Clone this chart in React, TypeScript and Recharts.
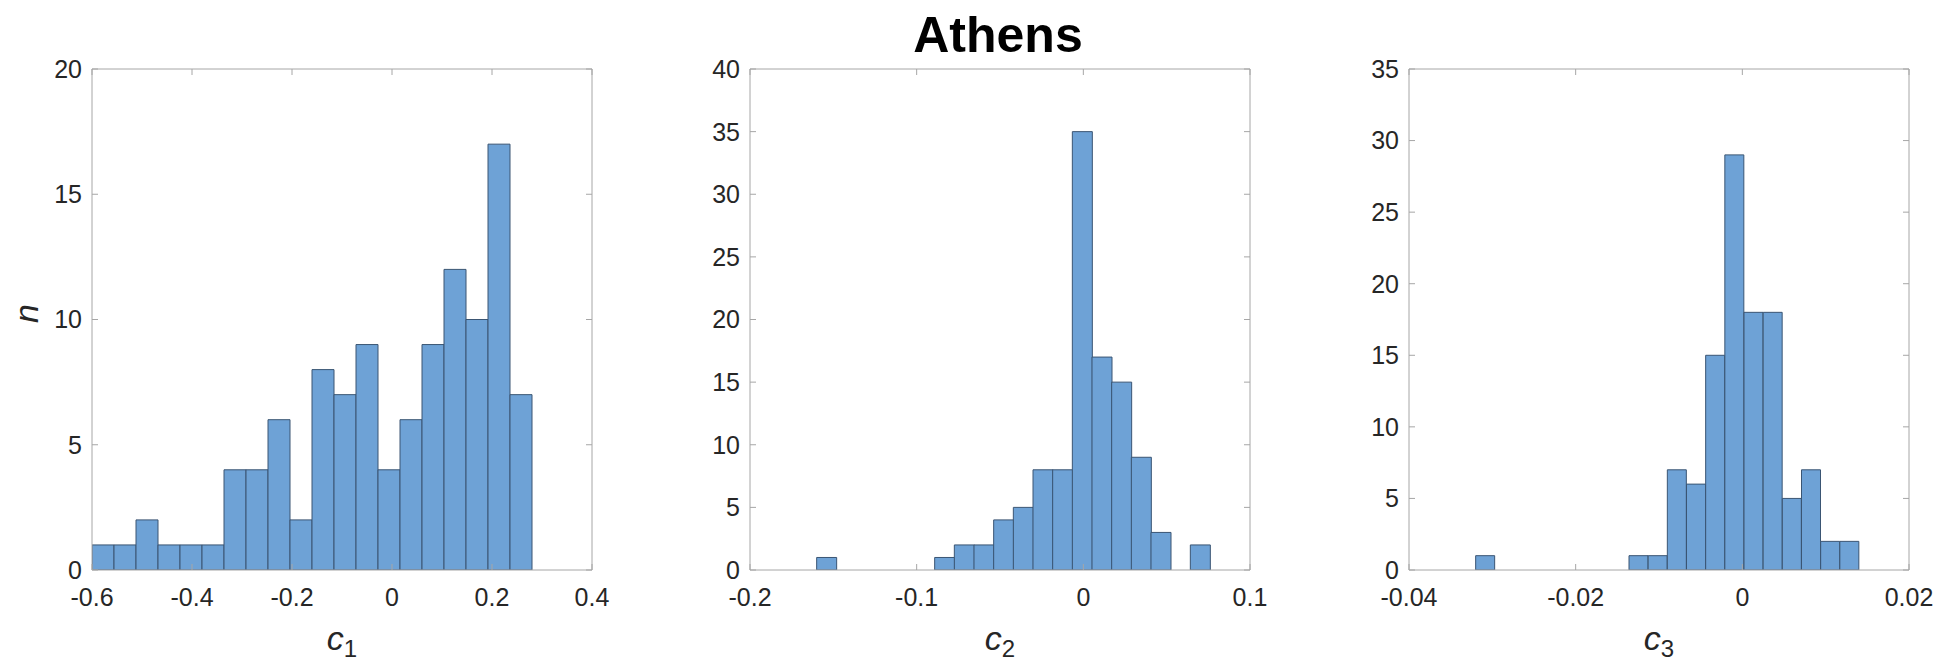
import { BarChart, Bar, XAxis, YAxis } from 'recharts';

// histogram counts per bin (20 bins each)
const C1_COUNTS = [1, 1, 2, 1, 1, 1, 4, 4, 6, 2, 8, 7, 9, 4, 6, 9, 12, 10, 17, 7];
const C1_BIN_START = -0.6;
const C1_BIN_WIDTH = 0.044;
const C1_X_TICKS = [-0.6, -0.4, -0.2, 0, 0.2, 0.4];
const C1_Y_TICKS = [0, 5, 10, 15, 20];

const C2_COUNTS = [1, 0, 0, 0, 0, 0, 1, 2, 2, 4, 5, 8, 8, 35, 17, 15, 9, 3, 0, 2];
const C2_BIN_START = -0.16;
const C2_BIN_WIDTH = 0.0118;
const C2_X_TICKS = [-0.2, -0.1, 0, 0.1];
const C2_Y_TICKS = [0, 5, 10, 15, 20, 25, 30, 35, 40];

const C3_COUNTS = [1, 0, 0, 0, 0, 0, 0, 0, 1, 1, 7, 6, 15, 29, 18, 18, 5, 7, 2, 2];
const C3_BIN_START = -0.032;
const C3_BIN_WIDTH = 0.0023;
const C3_X_TICKS = [-0.04, -0.02, 0, 0.02];
const C3_Y_TICKS = [0, 5, 10, 15, 20, 25, 30, 35];

const TITLE = 'Athens';

const FONT = '"Liberation Sans", Arial, Helvetica, sans-serif';
const BAR_FILL = '#6ea2d6';
const BAR_EDGE = '#3a5573';
const AXIS = '#a6a6a6';
const TEXT = '#262626';

const CHART_W = 620;
const CHART_H = 668;

type Props = {
  left: number;
  counts: number[];
  binStart: number;
  binWidth: number;
  xTicks: number[];
  yTicks: number[];
  sub: string;
  showYLabel?: boolean;
};

function Histogram({ left, counts, binStart, binWidth, xTicks, yTicks, sub, showYLabel }: Props) {
  const data = counts.map((n, i) => ({ x: binStart + (i + 0.5) * binWidth, n }));
  const xDomain = [xTicks[0], xTicks[xTicks.length - 1]];
  const yDomain = [yTicks[0], yTicks[yTicks.length - 1]];

  const xLabel = (props: any) => {
    const vb = props.viewBox;
    return (
      <text x={vb.x + vb.width / 2} y={vb.y + 80} textAnchor="middle" fill={TEXT}>
        <tspan fontStyle="italic" fontSize={34}>c</tspan>
        <tspan fontSize={24} dy={7}>{sub}</tspan>
      </text>
    );
  };

  const yLabel = (props: any) => {
    const vb = props.viewBox;
    const x = vb.x + 16;
    const cy = vb.y + vb.height / 2 - 6;
    return (
      <text
        x={x}
        y={cy}
        transform={`rotate(-90, ${x}, ${cy})`}
        textAnchor="middle"
        fontStyle="italic"
        fontSize={34}
        fill={TEXT}
      >
        n
      </text>
    );
  };

  return (
    <div style={{ position: 'absolute', left, top: 0 }}>
      <BarChart
        width={CHART_W}
        height={CHART_H}
        data={data}
        margin={{ top: 68, right: 27, bottom: 38, left: 22 }}
        barCategoryGap={0}
        barGap={0}
      >
        <XAxis
          dataKey="x"
          type="number"
          domain={xDomain}
          ticks={xTicks}
          interval={0}
          allowDataOverflow
          height={60}
          axisLine={{ stroke: AXIS }}
          tickLine={{ stroke: AXIS }}
          tickSize={-6}
          tickMargin={24}
          tick={{ fill: TEXT, fontSize: 25 }}
          label={xLabel}
        />
        <XAxis
          xAxisId="top"
          orientation="top"
          dataKey="x"
          type="number"
          domain={xDomain}
          ticks={xTicks}
          interval={0}
          allowDataOverflow
          height={1}
          axisLine={{ stroke: AXIS }}
          tickLine={{ stroke: AXIS }}
          tickSize={-6}
          tick={() => <g />}
        />
        <YAxis
          type="number"
          domain={yDomain}
          ticks={yTicks}
          interval={0}
          allowDataOverflow
          width={70}
          axisLine={{ stroke: AXIS }}
          tickLine={{ stroke: AXIS }}
          tickSize={-6}
          tickMargin={16}
          tick={{ fill: TEXT, fontSize: 25 }}
          label={showYLabel ? yLabel : undefined}
        />
        <YAxis
          yAxisId="right"
          orientation="right"
          type="number"
          domain={yDomain}
          ticks={yTicks}
          interval={0}
          allowDataOverflow
          width={1}
          axisLine={{ stroke: AXIS }}
          tickLine={{ stroke: AXIS }}
          tickSize={-6}
          tick={() => <g />}
        />
        <Bar
          dataKey="n"
          fill={BAR_FILL}
          stroke={BAR_EDGE}
          strokeWidth={1}
          isAnimationActive={false}
        />
      </BarChart>
    </div>
  );
}

export default function App() {
  return (
    <div
      style={{
        position: 'relative',
        width: 1942,
        height: 668,
        margin: -8,
        overflow: 'hidden',
        background: '#ffffff',
        fontFamily: FONT,
      }}
    >
      <div
        style={{
          position: 'absolute',
          left: 798,
          top: 10,
          width: 400,
          textAlign: 'center',
          fontSize: 50,
          lineHeight: 1,
          fontWeight: 'bold',
          color: '#000',
        }}
      >
        {TITLE}
      </div>
      <Histogram
        left={0}
        counts={C1_COUNTS}
        binStart={C1_BIN_START}
        binWidth={C1_BIN_WIDTH}
        xTicks={C1_X_TICKS}
        yTicks={C1_Y_TICKS}
        sub="1"
        showYLabel
      />
      <Histogram
        left={658}
        counts={C2_COUNTS}
        binStart={C2_BIN_START}
        binWidth={C2_BIN_WIDTH}
        xTicks={C2_X_TICKS}
        yTicks={C2_Y_TICKS}
        sub="2"
      />
      <Histogram
        left={1317}
        counts={C3_COUNTS}
        binStart={C3_BIN_START}
        binWidth={C3_BIN_WIDTH}
        xTicks={C3_X_TICKS}
        yTicks={C3_Y_TICKS}
        sub="3"
      />
    </div>
  );
}
